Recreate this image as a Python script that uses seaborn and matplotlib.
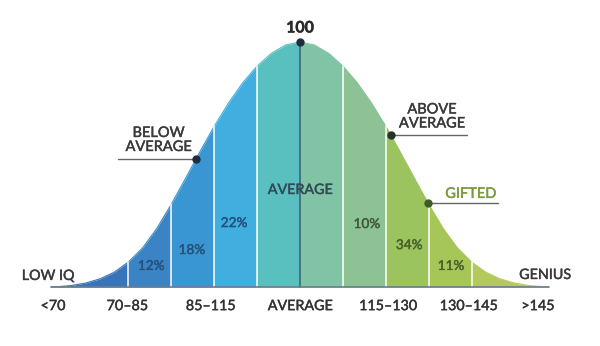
import numpy as np
import pandas as pd
import matplotlib
matplotlib.use("Agg")
import matplotlib.pyplot as plt
import matplotlib.patheffects as pe
import seaborn as sns

# ---------------- data ----------------
iq = [56.5, 57.5, 60, 62.5, 65, 67.5, 70, 72.5, 75, 77.5, 80, 82.5, 85, 87.5,
      90, 92.5, 95, 97.5, 100, 102.5, 105, 107.5, 110, 112.5, 115, 117.5, 120,
      122.5, 125, 127.5, 130, 132.5, 135, 137.5, 140, 142.5, 143.5]
height = [0, 0.1, 0.6, 1.6, 3.3, 6.0, 10.2, 16.0, 24.0, 33.8, 44.4, 55.2, 65.6,
          75.1, 83.4, 90.2, 95.4, 98.8, 100, 98.8, 95.4, 90.2, 83.4, 75.1, 65.6,
          55.2, 44.4, 33.8, 24.0, 16.0, 10.2, 6.0, 3.3, 1.6, 0.6, 0.1, 0]

band_edges = [56.5, 70, 77.5, 85, 92.5, 100, 107.5, 115, 122.5, 130, 143.5]
band_colors = ["#3775bb", "#3a84c5", "#3a96d3", "#40afe0", "#5abfbf",
               "#80c4a5", "#8cc294", "#9bc45f", "#a6c657", "#b3c95c"]
divider_iq = [70, 77.5, 85, 92.5, 107.5, 115, 122.5, 130]
center_iq = 100

tick_labels = ["<70", "70–85", "85–115", "AVERAGE", "115–130", "130–145", ">145"]
tick_pos = [56.8, 69.8, 84.4, 100, 115.4, 129.5, 141.6]

pct_labels = ["12%", "18%", "22%", "10%", "34%", "11%"]
pct_x = [74.0, 81.1, 88.5, 111.7, 119.1, 126.4]
pct_y = [8.6, 15.1, 26.1, 25.7, 17.1, 8.6]
pct_colors = ["#24507a", "#24507a", "#24507a", "#3e5a36", "#4a5e2c", "#4a5e2c"]

annot_labels = ["BELOW\nAVERAGE", "ABOVE\nAVERAGE", "GIFTED"]
annot_dot_iq = [81.8, 115.9, 122.4]
annot_line_end = [68.2, 129.2, 134.6]
annot_text_xy = [(75.3, 60.0), (123.1, 69.6), (129.9, 38.0)]
annot_text_colors = ["#3a3a3a", "#3a3a3a", "#7a9a3c"]
annot_dot_colors = ["#1f2d3d", "#243229", "#3d5a2a"]

# ---------------- figure ----------------
sns.set_theme(style="white")
plt.rcParams["font.family"] = ["Lato", "DejaVu Sans"]


def fx(color, w=0.3):
    return [pe.withStroke(linewidth=w, foreground=color)]


fig = plt.figure(figsize=(6.0, 3.46), dpi=100)
ax = fig.add_axes([0, 0, 1, 1])
ax.set_xlim(47.55, 152.45)
ax.set_ylim(-24.08, 117.14)
ax.axis("off")

df = pd.DataFrame({"iq": iq, "height": height})

# bands
for i in range(len(band_colors)):
    lo, hi = band_edges[i], band_edges[i + 1]
    sub = df[(df.iq >= lo) & (df.iq <= hi)]
    ax.fill_between(sub.iq, 0, sub.height, color=band_colors[i], lw=0, zorder=1)
    sns.lineplot(data=sub, x="iq", y="height", color=band_colors[i], lw=0.8,
                 ax=ax, zorder=1.5, legend=False)

# dividers
h_at = dict(zip(iq, height))
for d in divider_iq:
    ax.plot([d, d], [0, h_at[d]], color="white", lw=1.2, alpha=0.9, zorder=2)
ax.plot([center_iq, center_iq], [0, h_at[center_iq]], color="#3f6e74", lw=1.3, zorder=2)

# baseline
ax.plot([iq[0], iq[-1]], [0, 0], color="#6f7d8a", lw=1.2, zorder=3)

# peak marker and label
ax.plot([center_iq], [h_at[center_iq]], "o", color="#1f2d3d", ms=5, zorder=4)
ax.text(center_iq, 105.5, "100", ha="center", va="center", fontsize=11.5,
        fontweight="bold", color="#2a2a2a", path_effects=fx("#2a2a2a", 0.3))

# center AVERAGE label
ax.text(100, 39.6, "AVERAGE", ha="center", va="center", fontsize=10.3,
        color="#2f4b55", path_effects=fx("#2f4b55"))

# percentages
for lab, x, y, c in zip(pct_labels, pct_x, pct_y, pct_colors):
    ax.text(x, y, lab, ha="center", va="center", fontsize=9.8, color=c,
            path_effects=fx(c, 0.25))

# annotations
for lab, diq, lend, (tx, ty), tc, dc in zip(annot_labels, annot_dot_iq, annot_line_end,
                                             annot_text_xy, annot_text_colors, annot_dot_colors):
    dy = float(np.interp(diq, iq, height))
    ax.plot([diq, lend], [dy, dy], color="#666666", lw=1.0, zorder=3)
    ax.plot([diq], [dy], "o", color=dc, ms=5, zorder=4)
    ax.text(tx, ty, lab, ha="center", va="center", fontsize=10.5, color=tc,
            linespacing=1.0, path_effects=fx(tc))

# end labels
ax.text(55.9, 4.5, "LOW IQ", ha="center", va="center", fontsize=10.3,
        color="#3a3a3a", path_effects=fx("#3a3a3a"))
ax.text(142.8, 4.9, "GENIUS", ha="center", va="center", fontsize=10.3,
        color="#3a3a3a", path_effects=fx("#3a3a3a"))

# category labels under axis
for lab, x in zip(tick_labels, tick_pos):
    ax.text(x, -7.8, lab, ha="center", va="center", fontsize=10.3, color="#333333",
            path_effects=fx("#333333"))

fig.savefig("out.png", dpi=100)
